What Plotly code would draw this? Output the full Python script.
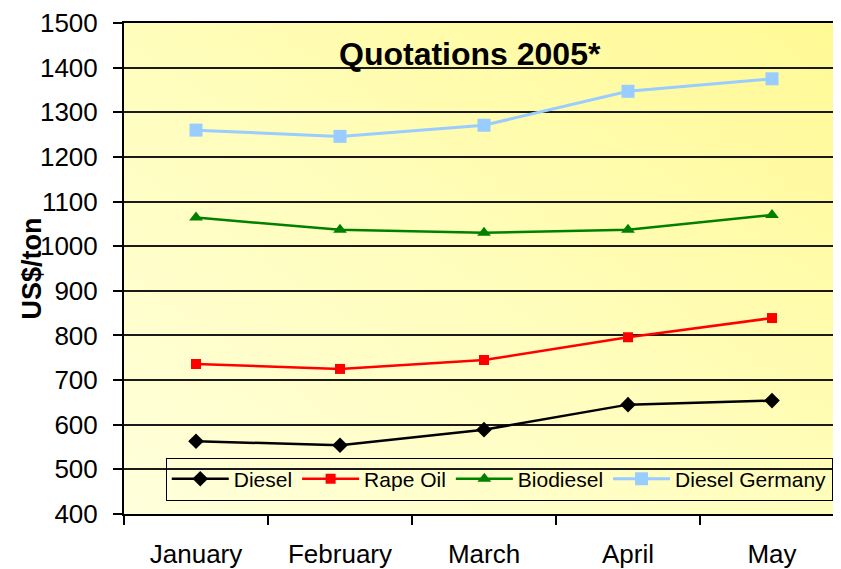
import base64
import plotly.graph_objects as go

months = ["January", "February", "March", "April", "May"]
diesel = [563, 554, 589, 645, 654]
rape_oil = [736, 725, 745, 796, 839]
biodiesel = [1064, 1037, 1030, 1037, 1070]
diesel_germany = [1260, 1246, 1271, 1347, 1375]

series = [
    ("Diesel", diesel, "#000000", "diamond", 12, 2.5),
    ("Rape Oil", rape_oil, "#FF0000", "square", 10, 2.5),
    ("Biodiesel", biodiesel, "#008000", "triangle-up", 12, 2.5),
    ("Diesel Germany", diesel_germany, "#99CCFF", "square", 13, 3),
]

FONT = "Liberation Sans, Arial, sans-serif"

fig = go.Figure()
for name, vals, color, sym, size, lw in series:
    fig.add_trace(go.Scatter(
        x=months, y=vals, name=name, mode="lines+markers",
        line=dict(color=color, width=lw),
        marker=dict(symbol=sym, size=size, color=color),
    ))

svg = ('<svg xmlns="http://www.w3.org/2000/svg" width="100" height="100" preserveAspectRatio="none">'
       '<defs><linearGradient id="g" x1="0" y1="1" x2="1" y2="0">'
       '<stop offset="0" stop-color="#FFFFDC"/><stop offset="0.5" stop-color="#FFFDBA"/>'
       '<stop offset="1" stop-color="#FFF994"/>'
       '</linearGradient></defs><rect width="100" height="100" fill="url(#g)"/></svg>')
src = "data:image/svg+xml;base64," + base64.b64encode(svg.encode()).decode()

fig.add_layout_image(dict(source=src, xref="paper", yref="paper", x=0, y=1,
                          sizex=1, sizey=1, sizing="stretch", layer="below",
                          xanchor="left", yanchor="top"))

fig.add_annotation(text="<b>Quotations 2005*</b>", xref="paper", yref="paper",
                   x=0.48, y=0.937, showarrow=False, xanchor="center", yanchor="middle",
                   font=dict(size=32, color="#000000", family=FONT))

fig.add_annotation(text="<b>US$/ton</b>", xref="paper", yref="paper",
                   x=-0.129, y=0.5, showarrow=False, textangle=-90,
                   xanchor="center", yanchor="middle",
                   font=dict(size=27, color="#000000", family=FONT))

fig.update_layout(
    width=838, height=561,
    margin=dict(l=116, r=0, t=13, b=54, pad=0),
    paper_bgcolor="#FFFFFF", plot_bgcolor="rgba(0,0,0,0)",
    font=dict(family=FONT, color="#000000"),
    showlegend=True,
    legend=dict(orientation="h", x=0.058, y=0.071, xanchor="left", yanchor="middle",
                bgcolor="rgba(0,0,0,0)", bordercolor="#000000", borderwidth=1,
                font=dict(size=21, family=FONT), tracegroupgap=0, itemwidth=57),
    xaxis=dict(type="category", tickson="boundaries", ticks="outside", ticklen=9,
               tickwidth=1.5, tickcolor="#000000", showline=True, linecolor="#000000",
               linewidth=2, mirror=True, showgrid=False, tickfont=dict(size=26),
               ticklabelstandoff=16, range=[-0.5, 4.5]),
    yaxis=dict(range=[400, 1500], dtick=100, ticks="outside", ticklen=9, tickwidth=1.5,
               tickcolor="#000000", showline=True, linecolor="#000000", linewidth=2,
               mirror=True, showgrid=True, gridcolor="#1a1a1a", gridwidth=1.5,
               tickfont=dict(size=26), zeroline=False, ticklabelstandoff=10,
               ticklabeloverflow="allow"),
)

fig.write_html("out.html")
